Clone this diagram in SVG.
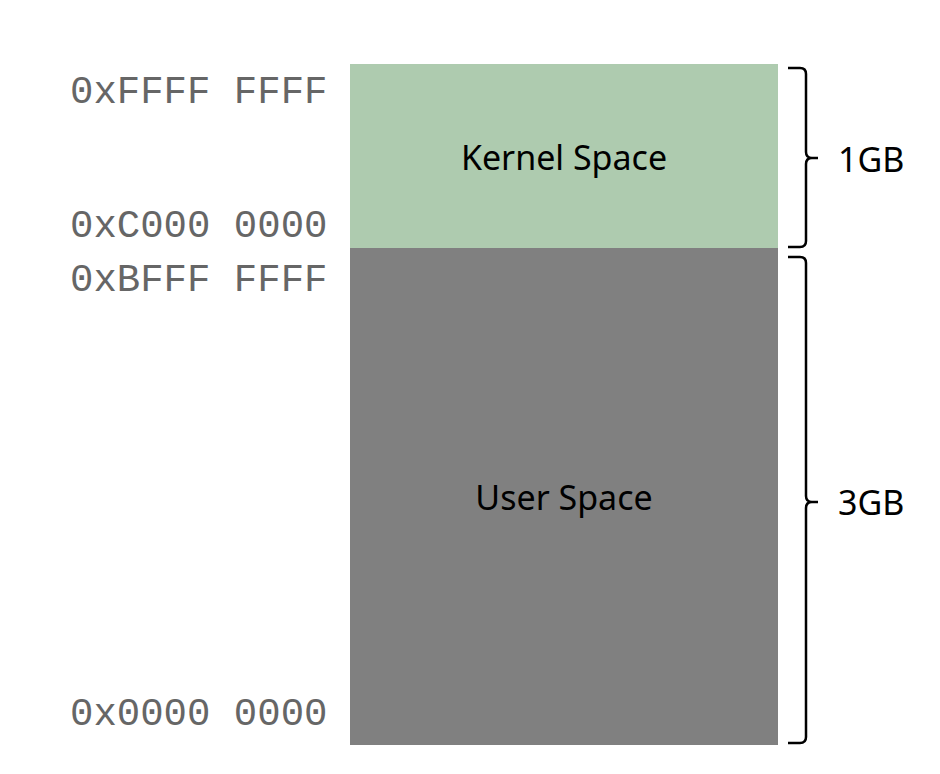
<svg xmlns="http://www.w3.org/2000/svg" width="940" height="774" viewBox="0 0 940 774">
<style>
.addr{font-family:"Liberation Mono","Courier New",monospace;font-size:39px;fill:#666666}
.lbl{font-family:"Noto Sans","Open Sans",sans-serif;font-size:34px;fill:#000}
.brace{fill:none;stroke:#000;stroke-width:2.5;stroke-linejoin:round}
</style>
<rect width="940" height="774" fill="#fff"/>
<g id="kernel">
<rect x="350" y="64" width="428" height="184" fill="#aecbaf"/>
<text class="lbl" x="564" y="170" text-anchor="middle">Kernel Space</text>
</g>
<g id="user">
<rect x="350" y="248" width="428" height="497" fill="#808080"/>
<text class="lbl" x="564" y="510" text-anchor="middle">User Space</text>
</g>
<g id="addresses">
<text class="addr" x="70" y="103">0xFFFF FFFF</text>
<text class="addr" x="70" y="237">0xC000 0000</text>
<text class="addr" x="70" y="291">0xBFFF FFFF</text>
<text class="addr" x="70" y="725">0x0000 0000</text>
</g>
<g id="connectors">
<path class="brace" d="M788 68 H800 Q806 68 806 74 V152 Q806 158 812 158 H818 M812 158 Q806 158 806 164 V241 Q806 247 800 247 H788"/>
<path class="brace" d="M788 257 H800 Q806 257 806 263 V496 Q806 502 812 502 H818 M812 502 Q806 502 806 508 V737 Q806 743 800 743 H788"/>
</g>
<g id="sizes">
<text class="lbl" x="838" y="172">1GB</text>
<text class="lbl" x="838" y="515">3GB</text>
</g>
</svg>
